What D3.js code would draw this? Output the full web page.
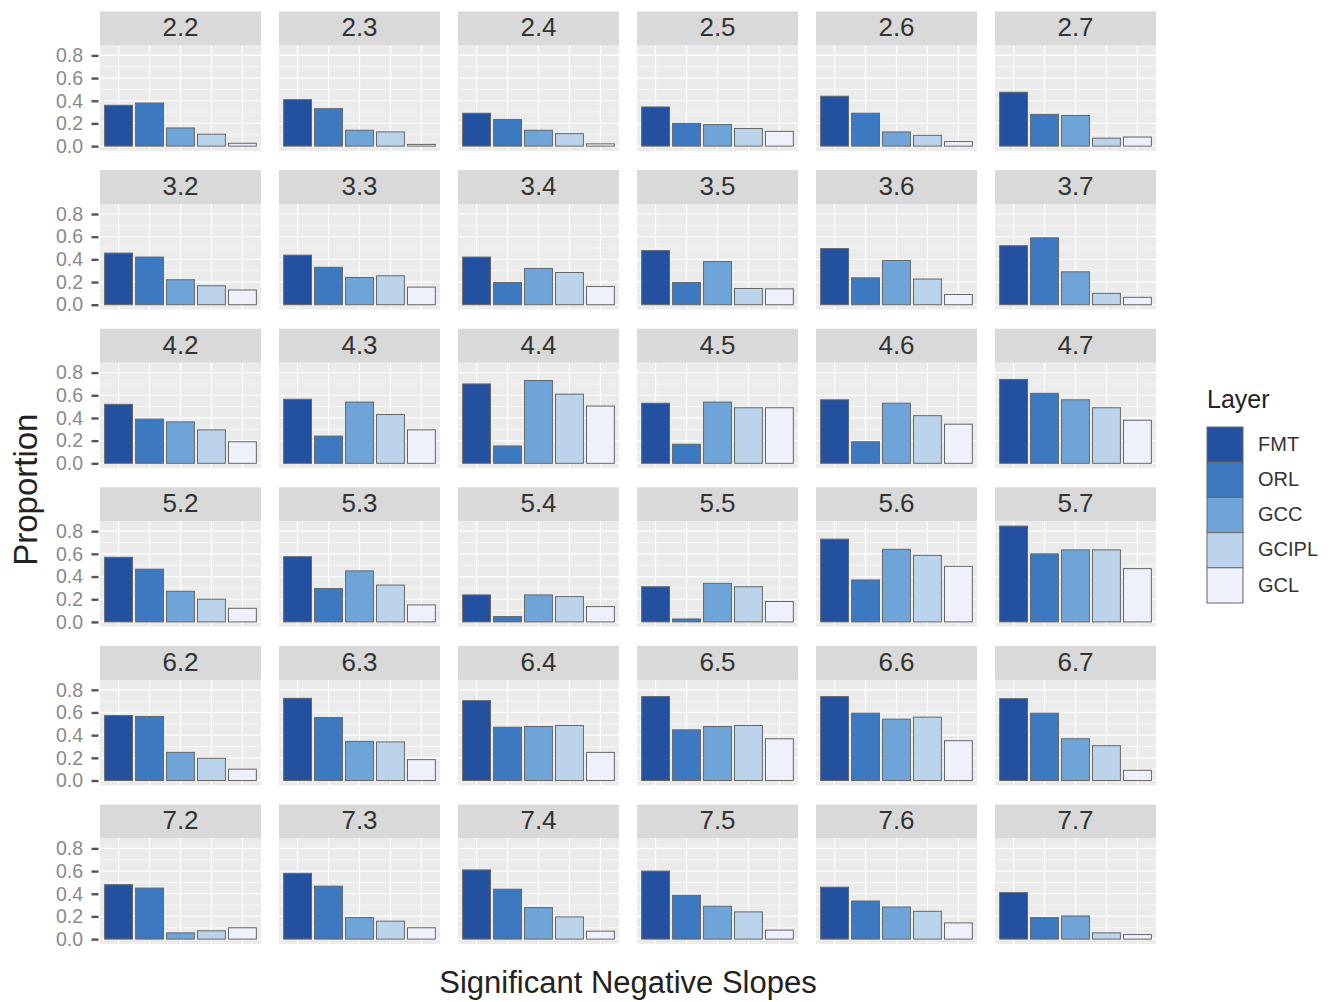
<!DOCTYPE html>
<html>
<head>
<meta charset="utf-8">
<script src="https://cdn.jsdelivr.net/npm/d3@7"></script>
<style>
  html, body { margin: 0; padding: 0; background: #ffffff; }
  svg { display: block; }
  text { font-family: "Liberation Sans", Arial, Helvetica, sans-serif; }
</style>
</head>
<body>
<svg id="chart" width="1339" height="1002"></svg>
<script>
// Facet labels (row.column), read left to right, top to bottom
const facetLabels = [
  "2.2","2.3","2.4","2.5","2.6","2.7",
  "3.2","3.3","3.4","3.5","3.6","3.7",
  "4.2","4.3","4.4","4.5","4.6","4.7",
  "5.2","5.3","5.4","5.5","5.6","5.7",
  "6.2","6.3","6.4","6.5","6.6","6.7",
  "7.2","7.3","7.4","7.5","7.6","7.7"
];

const layers = ["FMT", "ORL", "GCC", "GCIPL", "GCL"];
const layerColors = ["#2450a0", "#3d79c0", "#6fa4d9", "#bcd4eb", "#eef0fb"];

// Proportion of significant negative slopes per facet, one array per layer
const fmt = [
  0.36, 0.41, 0.29, 0.345, 0.44, 0.475,
  0.455, 0.437, 0.42, 0.477, 0.495, 0.52,
  0.52, 0.565, 0.70, 0.53, 0.56, 0.74,
  0.57, 0.575, 0.238, 0.31, 0.73, 0.845,
  0.573, 0.725, 0.704, 0.74, 0.74, 0.722,
  0.48, 0.58, 0.61, 0.60, 0.458, 0.41
];
const orl = [
  0.38, 0.33, 0.235, 0.20, 0.29, 0.28,
  0.42, 0.33, 0.196, 0.196, 0.237, 0.59,
  0.39, 0.24, 0.153, 0.168, 0.19, 0.617,
  0.465, 0.295, 0.047, 0.026, 0.37, 0.60,
  0.565, 0.555, 0.47, 0.447, 0.594, 0.594,
  0.45, 0.467, 0.44, 0.386, 0.336, 0.19
];
const gcc = [
  0.16, 0.14, 0.14, 0.19, 0.125, 0.27,
  0.22, 0.24, 0.32, 0.38, 0.39, 0.29,
  0.365, 0.54, 0.73, 0.54, 0.53, 0.56,
  0.27, 0.45, 0.238, 0.34, 0.64, 0.635,
  0.248, 0.345, 0.476, 0.476, 0.541, 0.368,
  0.055, 0.19, 0.278, 0.29, 0.283, 0.204
];
const gcipl = [
  0.105, 0.125, 0.11, 0.155, 0.095, 0.07,
  0.167, 0.255, 0.284, 0.143, 0.226, 0.10,
  0.295, 0.43, 0.61, 0.49, 0.42, 0.49,
  0.20, 0.325, 0.223, 0.31, 0.587, 0.635,
  0.196, 0.34, 0.485, 0.485, 0.559, 0.307,
  0.073, 0.158, 0.196, 0.24, 0.245, 0.055
];
const gcl = [
  0.025, 0.015, 0.02, 0.13, 0.04, 0.08,
  0.13, 0.155, 0.16, 0.14, 0.09, 0.065,
  0.19, 0.295, 0.505, 0.49, 0.345, 0.38,
  0.12, 0.15, 0.135, 0.18, 0.49, 0.47,
  0.10, 0.184, 0.248, 0.368, 0.351, 0.09,
  0.10, 0.10, 0.07, 0.079, 0.143, 0.04
];

const yTickValues = [0, 0.2, 0.4, 0.6, 0.8];
const yMinorValues = [0.1, 0.3, 0.5, 0.7];
const yTickLabels = ["0.0", "0.2", "0.4", "0.6", "0.8"];

const xTitle = "Significant Negative Slopes";
const yTitle = "Proportion";
const legendTitle = "Layer";

// ---- layout ----
const nCols = 6, nRows = 6;
const gridLeft = 100, colPitch = 179, panelW = 161;
const gridTop = 11.5, rowPitch = 158.6, stripH = 34, panelH = 105.4;

const seriesByLayer = [fmt, orl, gcc, gcipl, gcl];
const facets = facetLabels.map((label, i) => ({
  label,
  row: Math.floor(i / nCols),
  col: i % nCols,
  values: layers.map((layer, k) => ({ layer, value: seriesByLayer[k][i] }))
}));

const svg = d3.select("#chart");

// shared scales (ggplot-style 5% expansion on the continuous axis)
const maxVal = d3.max(seriesByLayer.flat());
const y = d3.scaleLinear()
  .domain([-0.05 * maxVal, 1.05 * maxVal])
  .range([panelH, 0]);

const x = d3.scaleBand()
  .domain(layers)
  .range([0, panelW])
  .paddingInner(0.1)
  .paddingOuter(0.15);

const color = d3.scaleOrdinal().domain(layers).range(layerColors);

const panels = svg.selectAll("g.facet")
  .data(facets)
  .join("g")
  .attr("class", "facet")
  .attr("transform", d => `translate(${gridLeft + d.col * colPitch},${gridTop + d.row * rowPitch})`);

// strip
panels.append("rect")
  .attr("x", 0).attr("y", 0)
  .attr("width", panelW).attr("height", stripH)
  .attr("fill", "#d9d9d9");

panels.append("text")
  .attr("x", panelW / 2)
  .attr("y", stripH / 2 + 1)
  .attr("text-anchor", "middle")
  .attr("dominant-baseline", "middle")
  .attr("font-size", 26)
  .attr("fill", "#333333")
  .text(d => d.label);

// plotting area
const plot = panels.append("g")
  .attr("transform", `translate(0,${stripH})`);

plot.append("rect")
  .attr("width", panelW).attr("height", panelH)
  .attr("fill", "#ebebeb");

// minor horizontal grid
plot.selectAll("line.ymin")
  .data(yMinorValues)
  .join("line")
  .attr("x1", 0).attr("x2", panelW)
  .attr("y1", d => y(d)).attr("y2", d => y(d))
  .attr("stroke", "#ffffff").attr("stroke-width", 0.6);

// major horizontal grid
plot.selectAll("line.ymaj")
  .data(yTickValues)
  .join("line")
  .attr("x1", 0).attr("x2", panelW)
  .attr("y1", d => y(d)).attr("y2", d => y(d))
  .attr("stroke", "#ffffff").attr("stroke-width", 1.2);

// major vertical grid at each layer position
plot.selectAll("line.xmaj")
  .data(layers)
  .join("line")
  .attr("x1", d => x(d) + x.bandwidth() / 2)
  .attr("x2", d => x(d) + x.bandwidth() / 2)
  .attr("y1", 0).attr("y2", panelH)
  .attr("stroke", "#ffffff").attr("stroke-width", 1.2);

// bars
plot.selectAll("rect.bar")
  .data(d => d.values)
  .join("rect")
  .attr("class", "bar")
  .attr("x", d => x(d.layer))
  .attr("width", x.bandwidth())
  .attr("y", d => y(d.value))
  .attr("height", d => y(0) - y(d.value))
  .attr("fill", d => color(d.layer))
  .attr("stroke", "#666666")
  .attr("stroke-width", 1);

// y axis on the first column only
const axisPanels = plot.filter(d => d.col === 0);
axisPanels.each(function () {
  const g = d3.select(this).append("g");
  const ax = d3.axisLeft(y)
    .tickValues(yTickValues)
    .tickFormat((d, i) => yTickLabels[i])
    .tickSize(7)
    .tickPadding(10);
  g.call(ax);
  g.select(".domain").remove();
  g.selectAll(".tick line")
    .attr("stroke", "#555555")
    .attr("stroke-width", 2.4)
    .attr("transform", "translate(-1.5,0)");
  g.selectAll(".tick text")
    .attr("font-family", "'Liberation Sans', Arial, sans-serif")
    .attr("font-size", 19.5)
    .attr("fill", "#8a8a8a");
});

// axis titles
const gridBottom = gridTop + (nRows - 1) * rowPitch + stripH + panelH;
const gridRight = gridLeft + (nCols - 1) * colPitch + panelW;

svg.append("text")
  .attr("x", (gridLeft + gridRight) / 2)
  .attr("y", 993)
  .attr("text-anchor", "middle")
  .attr("font-size", 31)
  .attr("fill", "#222222")
  .text(xTitle);

svg.append("text")
  .attr("transform", `translate(37,${(gridTop + gridBottom) / 2 + 12}) rotate(-90)`)
  .attr("text-anchor", "middle")
  .attr("font-size", 33)
  .attr("fill", "#222222")
  .text(yTitle);

// legend
const legend = svg.append("g").attr("transform", "translate(1207,400)");
legend.append("text")
  .attr("x", 0).attr("y", 8)
  .attr("font-size", 25)
  .attr("fill", "#222222")
  .text(legendTitle);

const keyH = 35.2, keyW = 36, keyTop = 27;
const keys = legend.selectAll("g.key")
  .data(layers)
  .join("g")
  .attr("class", "key")
  .attr("transform", (d, i) => `translate(0,${keyTop + i * keyH})`);

keys.append("rect")
  .attr("width", keyW).attr("height", keyH)
  .attr("fill", d => color(d))
  .attr("stroke", "#666666")
  .attr("stroke-width", 1);

keys.append("text")
  .attr("x", 51)
  .attr("y", keyH / 2 + 1)
  .attr("dominant-baseline", "middle")
  .attr("font-size", 20)
  .attr("fill", "#333333")
  .text(d => d);
</script>
</body>
</html>
